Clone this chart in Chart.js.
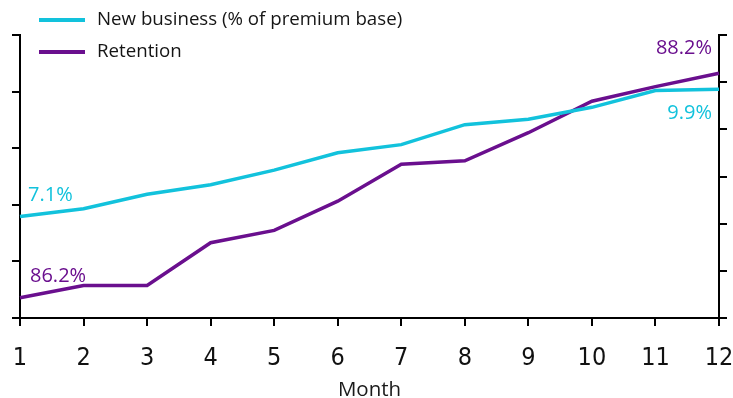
<!DOCTYPE html>
<html>
<head>
<meta charset="utf-8">
<script src="https://cdn.jsdelivr.net/npm/chart.js@4.4.1/dist/chart.umd.min.js"></script>
<style>
  html, body { margin: 0; padding: 0; background: #ffffff; }
</style>
</head>
<body>
<canvas id="chart" width="733" height="398"></canvas>
<script>
// Month numbers along the horizontal axis
const months = ['1', '2', '3', '4', '5', '6', '7', '8', '9', '10', '11', '12'];

// New business, % of premium base (left axis)
const newBusiness = [7.1, 7.27, 7.59, 7.80, 8.12, 8.50, 8.68, 9.12, 9.24, 9.50, 9.87, 9.9];

// Retention, % (right axis)
const retention = [86.2, 86.31, 86.31, 86.69, 86.80, 87.06, 87.39, 87.42, 87.67, 87.95, 88.08, 88.2];

// Axis extents and the number of tick marks on each value axis
const newBusinessRange = [4.87, 11.09];
const newBusinessTickCount = 6;
const retentionRange = [86.02, 88.54];
const retentionTickCount = 7;

const seriesNames = ['New business (% of premium base)', 'Retention'];
const CYAN = '#12c2dc';
const PURPLE = '#6a0f8e';
const FONT = '"Open Sans", "Noto Sans", sans-serif';
const NARROW = '"Liberation Sans Narrow", "DejaVu Sans Condensed", "Open Sans", sans-serif';

// Evenly spaced tick marks between an axis' min and max
function evenTicks(count) {
  return function (scale) {
    const step = (scale.max - scale.min) / (count - 1);
    const ticks = [];
    for (let i = 0; i < count; i++) ticks.push({ value: scale.min + i * step });
    scale.ticks = ticks;
  };
}

// Keep the month axis a fixed height and let its end labels overhang the plot edges
function fixMonthAxis(scale) {
  scale.paddingLeft = 0;
  scale.paddingRight = 0;
  scale.height = 80;
}

// Two-row legend drawn over the top-left corner
const stackedLegend = {
  id: 'stackedLegend',
  afterDraw(chart) {
    const ctx = chart.ctx;
    const rows = [
      { y: 20, color: CYAN, text: seriesNames[0] },
      { y: 52, color: PURPLE, text: seriesNames[1] }
    ];
    ctx.save();
    rows.forEach(r => {
      ctx.strokeStyle = r.color;
      ctx.lineWidth = 4;
      ctx.beginPath();
      ctx.moveTo(39, r.y);
      ctx.lineTo(85, r.y);
      ctx.stroke();
      ctx.fillStyle = '#151515';
      ctx.font = '18.7px ' + FONT;
      ctx.textBaseline = 'middle';
      ctx.textAlign = 'left';
      ctx.fillText(r.text, 97, r.y);
    });
    ctx.restore();
  }
};

// Value labels at the first and last month of each series
const endLabels = {
  id: 'endLabels',
  afterDatasetsDraw(chart) {
    const ctx = chart.ctx;
    const x = chart.scales.x;
    const yl = chart.scales.yLeft;
    const yr = chart.scales.yRight;
    const last = months.length - 1;
    ctx.save();
    ctx.font = '20px ' + FONT;
    ctx.textBaseline = 'middle';

    ctx.fillStyle = CYAN;
    ctx.textAlign = 'left';
    ctx.fillText(newBusiness[0].toFixed(1) + '%', x.getPixelForValue(0) + 8, yl.getPixelForValue(newBusiness[0]) - 21);
    ctx.textAlign = 'right';
    ctx.fillText(newBusiness[last].toFixed(1) + '%', x.getPixelForValue(last) - 7, yl.getPixelForValue(newBusiness[last]) + 24);

    ctx.fillStyle = PURPLE;
    ctx.textAlign = 'left';
    ctx.fillText(retention[0].toFixed(1) + '%', x.getPixelForValue(0) + 10, yr.getPixelForValue(retention[0]) - 21);
    ctx.textAlign = 'right';
    ctx.fillText(retention[last].toFixed(1) + '%', x.getPixelForValue(last) - 7, yr.getPixelForValue(retention[last]) - 25);
    ctx.restore();
  }
};

const axisLine = { color: '#000000', width: 2 };
const tickMarks = { drawOnChartArea: false, drawTicks: true, tickLength: 8, color: '#000000', lineWidth: 2 };

new Chart(document.getElementById('chart'), {
  type: 'line',
  data: {
    labels: months,
    datasets: [
      {
        label: seriesNames[0],
        data: newBusiness,
        yAxisID: 'yLeft',
        borderColor: CYAN,
        borderWidth: 3.5,
        pointRadius: 0,
        tension: 0,
        fill: false
      },
      {
        label: seriesNames[1],
        data: retention,
        yAxisID: 'yRight',
        borderColor: PURPLE,
        borderWidth: 3.5,
        pointRadius: 0,
        tension: 0,
        fill: false
      }
    ]
  },
  options: {
    responsive: false,
    animation: false,
    layout: { padding: { left: 12, right: 6, top: 35, bottom: 0 } },
    plugins: {
      legend: { display: false },
      tooltip: { enabled: false }
    },
    scales: {
      x: {
        offset: false,
        afterFit: fixMonthAxis,
        border: axisLine,
        grid: tickMarks,
        ticks: { color: '#111111', font: { family: NARROW, size: 25, lineHeight: 1 }, padding: 20, maxRotation: 0, autoSkip: false },
        title: { display: true, text: 'Month', color: '#1a1a1a', font: { family: FONT, size: 20.5, lineHeight: 1 }, padding: { top: 10, bottom: -2 } }
      },
      yLeft: {
        position: 'left',
        min: newBusinessRange[0],
        max: newBusinessRange[1],
        afterBuildTicks: evenTicks(newBusinessTickCount),
        border: axisLine,
        grid: tickMarks,
        ticks: { display: false }
      },
      yRight: {
        position: 'right',
        min: retentionRange[0],
        max: retentionRange[1],
        afterBuildTicks: evenTicks(retentionTickCount),
        border: axisLine,
        grid: tickMarks,
        ticks: { display: false }
      }
    }
  },
  plugins: [stackedLegend, endLabels]
});
</script>
</body>
</html>
